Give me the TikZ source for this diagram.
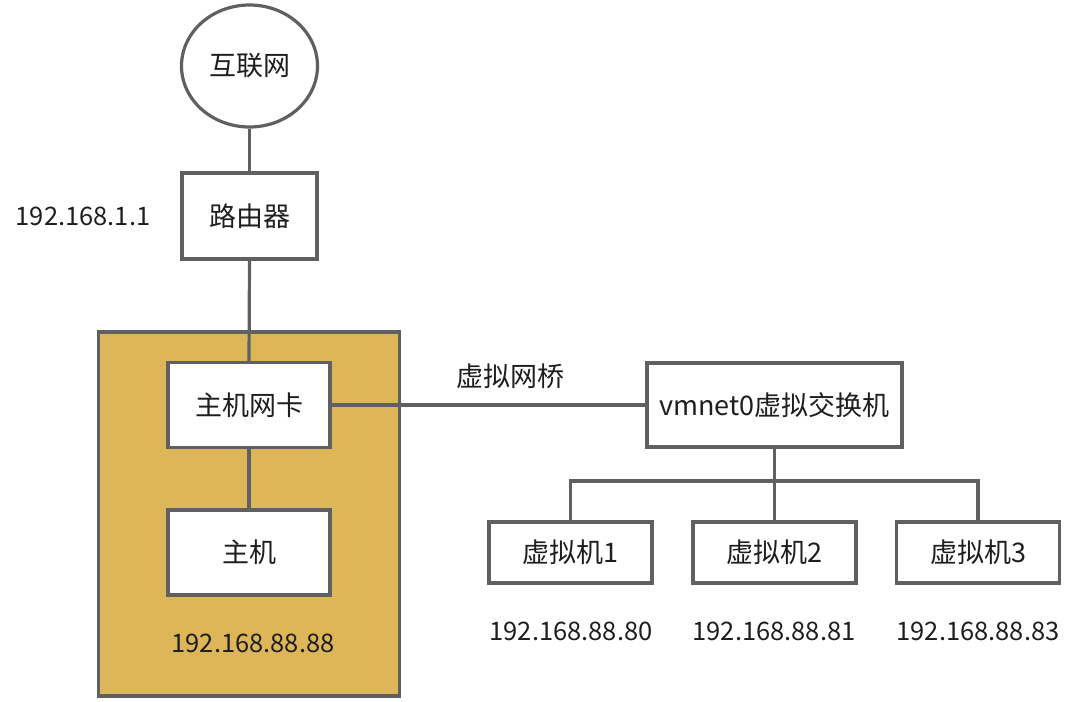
\documentclass[tikz,border=0pt]{standalone}
\usepackage{fontspec}
\setmainfont{Noto Sans CJK SC}
\usetikzlibrary{shapes.geometric}
\definecolor{ln}{RGB}{96,96,96}
\definecolor{gold}{RGB}{221,182,90}
\definecolor{txt}{RGB}{30,30,30}
\begin{document}
\begin{tikzpicture}[x=1pt,y=-1pt,
  box/.style={draw=ln,line width=3.2pt,fill=white,inner sep=0pt,text=txt,font=\fontsize{27}{30}\selectfont},
  lbl/.style={text=txt,font=\fontsize{25.5}{30}\selectfont,inner sep=0pt},
  wire/.style={draw=ln,line width=3.2pt}]
\useasboundingbox (0,0) rectangle (1080,702);
\node[box,ellipse,minimum width=136pt,minimum height=122pt] (net) at (249.5,66) {互联网};
\node[box,minimum width=135pt,minimum height=86pt] (router) at (249.5,216) {路由器};
\node[lbl] (rip) at (83,216) {192.168.1.1};
\node[box,fill=gold,minimum width=301pt,minimum height=364pt] (host) at (249,514) {};
\node[box,minimum width=162pt,minimum height=85pt] (nic) at (249,405) {主机网卡};
\node[box,minimum width=162pt,minimum height=85pt] (pc) at (249,552.5) {主机};
\node[lbl] (hip) at (253,643) {192.168.88.88};
\node[box,minimum width=255pt,minimum height=84pt] (sw) at (774.5,405) {vmnet0虚拟交换机};
\node[box,draw=none,fill=none] (br) at (510,376) {虚拟网桥};
\node[box,minimum width=163pt,minimum height=61pt] (vm1) at (570.5,552.5) {虚拟机1};
\node[box,minimum width=163pt,minimum height=61pt] (vm2) at (774.5,552.5) {虚拟机2};
\node[box,minimum width=163pt,minimum height=61pt] (vm3) at (978,552.5) {虚拟机3};
\node[lbl] (ip1) at (571,631) {192.168.88.80};
\node[lbl] (ip2) at (774,631) {192.168.88.81};
\node[lbl] (ip3) at (978,631) {192.168.88.83};
\coordinate (j) at (774.5,481);
\draw[wire] (net.south) -- (router.north);
\draw[wire] (router.south) -- (nic.north);
\draw[wire] (nic.south) -- (pc.north);
\draw[wire] (nic.east) -- (sw.west);
\draw[wire] (sw.south) -- (vm2.north);
\draw[wire] (vm1.north) |- (j) -| (vm3.north);
\end{tikzpicture}
\end{document}
